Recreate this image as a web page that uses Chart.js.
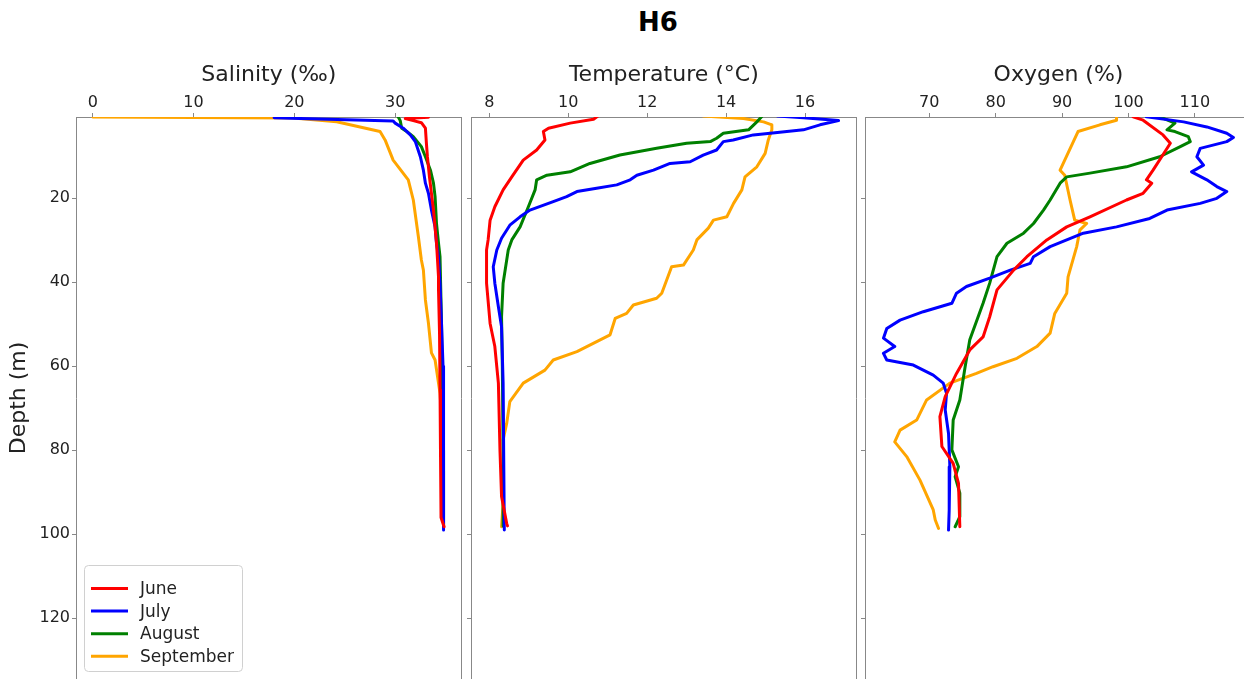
<!DOCTYPE html>
<html>
<head>
<meta charset="utf-8">
<script src="https://cdn.jsdelivr.net/npm/chart.js@4.4.0/dist/chart.umd.min.js"></script>
<style>
  html, body { margin: 0; padding: 0; background: #fff; width: 1244px; height: 679px; overflow: hidden; position: relative; }
  #title { position: absolute; left: 658px; top: 7px; transform: translateX(-50%); font: bold 26px "DejaVu Sans"; line-height: 30px; color: #000; }
  canvas { position: absolute; top: 0; }
</style>
</head>
<body>
<div id="title">H6</div>
<canvas id="sal" width="466" height="679" style="left:0px"></canvas>
<canvas id="tem" width="394" height="679" style="left:466px"></canvas>
<canvas id="oxy" width="400" height="679" style="left:860px"></canvas>
<script>
// months and colours
var months = ['June', 'July', 'August', 'September'];
var colors = ['#ff0000', '#0000ff', '#008000', '#ffa500'];
var depthTicks = [20, 40, 60, 80, 100, 120];

// Salinity (‰) profiles
var salJuneDepth = [0.7, 1.0, 1.5, 2.0, 3.3, 6.9, 10.1, 14.9, 22.8, 30.6, 38.7, 41.8, 52, 65.6, 81.5, 96, 98.2];
var salJune = [33.3, 31.0, 31.8, 32.6, 33.0, 33.1, 33.2, 33.4, 33.8, 34.1, 34.3, 34.3, 34.4, 34.45, 34.5, 34.55, 34.85];
var salJulyDepth = [0.8, 1.0, 1.6, 2.1, 3.3, 4.9, 6.5, 10.1, 13.3, 16.4, 18.8, 22.8, 26.8, 30.7, 33.9, 40.2, 50, 60, 80, 99];
var salJuly = [18.0, 20.6, 29.8, 30.0, 30.8, 31.5, 32.0, 32.5, 32.8, 33.0, 33.3, 33.6, 33.96, 34.1, 34.3, 34.45, 34.6, 34.75, 34.8, 34.8];
var salAugDepth = [0.6, 1.5, 3.3, 4.1, 5.3, 7.7, 10.1, 13.3, 16.4, 19.6, 26, 30.7, 33.9, 50, 80, 98];
var salAug = [30.3, 30.5, 30.65, 31.15, 31.8, 32.6, 33.0, 33.5, 33.8, 33.96, 34.1, 34.3, 34.45, 34.6, 34.75, 34.8];
var salSepDepth = [0.64, 0.9, 1.76, 4.1, 6.1, 10.9, 15.6, 20.4, 29.1, 34.7, 37.1, 44.2, 49.7, 56.8, 58.5, 66.4, 72, 85, 98.2];
var salSep = [0.0, 19.9, 24.2, 28.5, 29.0, 29.8, 31.3, 31.8, 32.3, 32.6, 32.8, 33.0, 33.3, 33.6, 33.96, 34.45, 34.6, 34.75, 34.8];

// Temperature (°C) profiles
var temJuneDepth = [0.4, 1.2, 2.1, 3.3, 4.1, 6.1, 8.5, 10.9, 14.9, 18, 22, 25.2, 29.9, 32.3, 40.2, 49.8, 55.3, 64, 80, 91, 97.4, 98];
var temJune = [10.75, 10.64, 10.05, 9.5, 9.37, 9.41, 9.2, 8.86, 8.57, 8.35, 8.14, 8.02, 7.97, 7.93, 7.93, 8.02, 8.14, 8.23, 8.27, 8.31, 8.44, 8.46];
var temJulyDepth = [0.4, 0.8, 1.5, 2.5, 3.7, 4.5, 4.9, 6.1, 6.5, 8.5, 9.7, 11.3, 11.7, 13.3, 14.5, 15.6, 16.8, 17.6, 18.4, 19.6, 20.8, 22.8, 24.4, 26.4, 29.5, 32.3, 36.3, 40.2, 45.8, 50.6, 64, 99];
var temJuly = [15.3, 15.96, 16.85, 16.38, 15.96, 15.12, 14.69, 14.18, 13.93, 13.76, 13.42, 13.09, 12.58, 12.16, 11.74, 11.57, 11.23, 10.72, 10.22, 9.96, 9.62, 9.03, 8.78, 8.52, 8.31, 8.19, 8.1, 8.14, 8.23, 8.31, 8.35, 8.38];
var temAugDepth = [0.6, 1.8, 3.7, 4.5, 5.7, 6.5, 6.9, 8.1, 9.7, 11.7, 13.7, 14.5, 15.6, 18, 22, 26.8, 29.9, 32.3, 40.2, 48.2, 60, 80, 98];
var temAug = [14.9, 14.78, 14.57, 13.93, 13.76, 13.6, 13.0, 12.24, 11.31, 10.55, 10.05, 9.46, 9.2, 9.16, 8.99, 8.78, 8.57, 8.48, 8.35, 8.31, 8.33, 8.35, 8.35];
var temSepDepth = [0.4, 1.0, 1.8, 2.5, 3.7, 6.1, 9.3, 12.5, 14.9, 18, 21.2, 24.4, 25.2, 27.1, 29.9, 32.3, 35.9, 36.3, 42.6, 43.8, 45.4, 47.4, 48.6, 52.5, 56.5, 58.5, 60.9, 64, 68.4, 73.6, 77.5, 92.6, 98.2];
var temSep = [13.42, 14.44, 14.95, 15.16, 15.16, 15.07, 14.99, 14.78, 14.48, 14.4, 14.19, 14.02, 13.68, 13.55, 13.26, 13.17, 12.92, 12.62, 12.37, 12.24, 11.65, 11.48, 11.19, 11.06, 10.22, 9.62, 9.41, 8.86, 8.52, 8.44, 8.35, 8.35, 8.31];

// Oxygen (%) profiles
var oxyJuneDepth = [0.6, 1.4, 4.9, 6.9, 10.1, 13.3, 15.6, 16.4, 18.8, 20.4, 24.4, 26.8, 29.9, 33.9, 37.1, 41.8, 48.2, 53, 56.1, 61.7, 67.2, 72, 79.1, 83.1, 87.9, 98.2];
var oxyJune = [100.7, 102.2, 105.2, 106.3, 105, 103.7, 102.7, 103.5, 102.2, 99.7, 94.2, 90.7, 87.7, 84.7, 82.7, 80.2, 79.1, 78.1, 76.1, 74.1, 72.4, 71.6, 71.9, 73.6, 74.4, 74.6];
var oxyJulyDepth = [0.6, 1.8, 3, 4.5, 5.5, 6.5, 8.1, 10.1, 12.1, 13.7, 15.6, 17.2, 18.4, 20, 21.2, 22.8, 24.8, 26.8, 28.3, 31.5, 33.9, 35.5, 37.1, 39, 41, 42.6, 45, 47, 49, 51, 53.3, 55.3, 56.9, 58.5, 59.7, 62.1, 64, 66.4, 70.4, 76, 83.9, 94.2, 99];
var oxyJuly = [102.7, 108.3, 111.8, 114.8, 115.8, 114.8, 110.8, 110.3, 111.3, 109.5, 111.8, 113.3, 114.8, 113.3, 110.8, 105.8, 103.2, 98.2, 93.2, 88.2, 85.7, 85.2, 82.2, 79.1, 75.6, 74.1, 73.4, 69.1, 65.6, 63.6, 63.1, 64.8, 63.1, 63.6, 67.6, 70.6, 72.1, 72.6, 72.4, 72.9, 73.1, 73.0, 72.9];
var oxyAugDepth = [0.6, 2.1, 3.7, 4.1, 5.3, 6.5, 7.7, 10.1, 12.5, 14, 14.9, 16.4, 20.4, 22.8, 26, 28.3, 30.7, 33.9, 40.2, 45, 53.7, 60.1, 68, 72.8, 79.9, 83.9, 86.3, 90.2, 95.8, 98.2];
var oxyAug = [104.7, 107, 105.8, 107, 109, 109.3, 107.8, 104.7, 99.7, 94.2, 90.7, 89.7, 88.2, 87.2, 85.7, 84.2, 81.7, 80.2, 79.1, 78.1, 76.1, 75.4, 74.6, 73.6, 73.4, 74.4, 73.9, 74.6, 74.6, 73.9];
var oxySepDepth = [0.6, 1.4, 2.5, 4.1, 13.3, 14.5, 20.4, 25.2, 26, 27.5, 31.5, 38.7, 42.6, 47.4, 52.1, 55.3, 58.1, 60.1, 61.7, 64, 68, 72.8, 75.2, 78, 81.5, 87.1, 94.2, 96.6, 98.6];
var oxySep = [98.2, 98.2, 95.7, 92.4, 89.7, 90.4, 91.2, 91.9, 93.7, 92.7, 92.2, 90.9, 90.7, 88.9, 88.2, 86.2, 83.2, 79.6, 77.1, 73.1, 69.6, 68.1, 65.6, 64.8, 66.6, 68.6, 70.6, 70.9, 71.4];

Chart.defaults.font.family = '"DejaVu Sans", sans-serif';
Chart.defaults.color = '#222';

var spine = '#888';

var legendBox = {
  id: 'legendBox',
  afterDraw: function (chart) {
    var ctx = chart.ctx;
    ctx.save();
    ctx.beginPath();
    ctx.roundRect(84.5, 565.5, 158, 106, 4);
    ctx.fillStyle = 'rgba(255,255,255,0.85)';
    ctx.fill();
    ctx.strokeStyle = '#d0d0d0';
    ctx.lineWidth = 1;
    ctx.stroke();
    ctx.font = '17px "DejaVu Sans"';
    ctx.textBaseline = 'middle';
    months.forEach(function (m, i) {
      var y = 588.5 + i * 22.6;
      ctx.beginPath();
      ctx.moveTo(91, y);
      ctx.lineTo(128, y);
      ctx.strokeStyle = colors[i];
      ctx.lineWidth = 3;
      ctx.stroke();
      ctx.fillStyle = '#222';
      ctx.fillText(m, 140, y + 1);
    });
    ctx.restore();
  }
};

function noPad(s) {
  s.paddingTop = 0;
  s.paddingBottom = 0;
}

function panel(id, label, xmin, xmax, xticks, depths, values, first, padRight) {
  var datasets = months.map(function (m, i) {
    return {
      label: m,
      data: depths[i].map(function (d, j) { return { x: values[i][j], y: d }; }),
      borderColor: colors[i],
      backgroundColor: colors[i],
      borderWidth: 3,
      pointRadius: 0,
      showLine: true,
      borderJoinStyle: 'round',
      borderCapStyle: 'round'
    };
  });
  var gridOpts = { display: true, drawOnChartArea: false, drawTicks: true, tickLength: 4, color: spine, tickColor: spine };
  return new Chart(document.getElementById(id), {
    type: 'scatter',
    data: { datasets: datasets },
    plugins: first ? [legendBox] : [],
    options: {
      responsive: false,
      animation: false,
      devicePixelRatio: 1,
      layout: { padding: { left: 0, right: padRight, top: 0, bottom: 0 } },
      plugins: { legend: { display: false }, tooltip: { enabled: false } },
      scales: {
        x: {
          type: 'linear', position: 'top', min: xmin, max: xmax,
          afterBuildTicks: function (s) { s.ticks = xticks.map(function (v) { return { value: v }; }); },
          afterFit: function (s) { s.height = 117; },
          grid: gridOpts,
          border: { display: true, color: spine, width: 1 },
          ticks: { font: { size: 16 }, color: '#222', padding: 1, maxRotation: 0 },
          title: { display: true, text: label, font: { size: 22 }, color: '#222', padding: { top: 62, bottom: 0 } }
        },
        y: {
          type: 'linear', position: 'left', reverse: true, min: 0.64, max: 134.45,
          afterBuildTicks: function (s) { s.ticks = depthTicks.map(function (v) { return { value: v }; }); },
          afterFit: function (s) { s.width = first ? 76 : 5; noPad(s); },
          grid: gridOpts,
          border: { display: true, color: spine, width: 1 },
          ticks: { display: first, font: { size: 16 }, color: '#222', padding: 2 },
          title: { display: first, text: 'Depth (m)', font: { size: 22 }, color: '#222', padding: { top: 6, bottom: 0 } }
        },
        yRight: {
          type: 'linear', position: 'right', min: 0, max: 1,
          afterFit: function (s) { s.width = 0; noPad(s); },
          grid: { display: false },
          ticks: { display: false },
          border: { display: true, color: spine, width: 1 }
        }
      }
    }
  });
}

panel('sal', 'Salinity (‰)', -1.66, 36.6, [0, 10, 20, 30],
  [salJuneDepth, salJulyDepth, salAugDepth, salSepDepth],
  [salJune, salJuly, salAug, salSep], true, 4.3);
panel('tem', 'Temperature (°C)', 7.536, 17.31, [8, 10, 12, 14, 16],
  [temJuneDepth, temJulyDepth, temAugDepth, temSepDepth],
  [temJune, temJuly, temAug, temSep], false, 3.3);
panel('oxy', 'Oxygen (%)', 60.32, 118.6, [70, 80, 90, 100, 110],
  [oxyJuneDepth, oxyJulyDepth, oxyAugDepth, oxySepDepth],
  [oxyJune, oxyJuly, oxyAug, oxySep], false, 8);
</script>
</body>
</html>
